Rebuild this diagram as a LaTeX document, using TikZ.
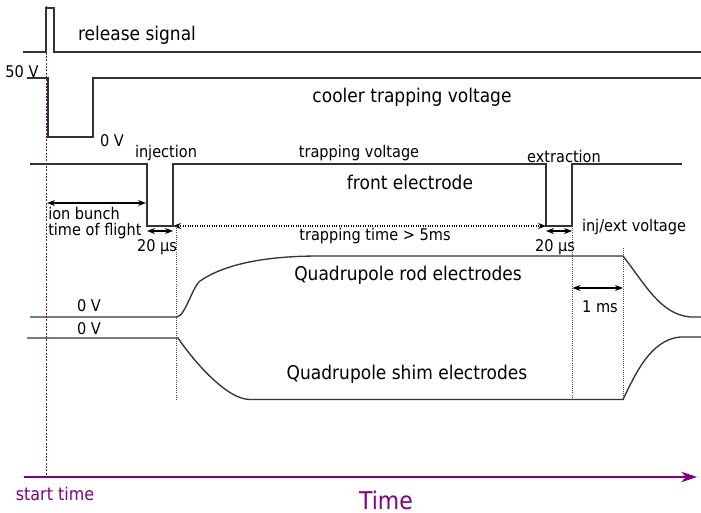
\documentclass[tikz,border=0pt]{standalone}
\usepackage{fontspec}
\setmainfont{DejaVu Sans}[FakeStretch=0.9]
\usetikzlibrary{arrows.meta}
\definecolor{timeaxis}{RGB}{128,0,128}

\begin{document}
\begin{tikzpicture}[x=0.75pt, y=-0.75pt, >={Stealth[length=6pt,width=4.5pt]},
  signal/.style={line width=1pt, black!80},
  marker/.style={densely dotted, line width=0.6pt, black!70},
  span/.style={<->, line width=0.8pt},
  biglabel/.style={font=\fontsize{14.2}{16}\selectfont, inner sep=0pt},
  smalllabel/.style={font=\fontsize{12.1}{14}\selectfont, inner sep=0pt}]
  \useasboundingbox (0,0) rectangle (701,513);

  % start time
  \coordinate (t0-top) at (46.5,6);
  \coordinate (t0) at (46.5,477);
  \draw[timeaxis, line width=1pt, dash pattern=on 1.5pt off 1pt] (t0-top) -- (t0);

  % release signal
  \draw[signal] (23,52) -- (46,52) -- (46,8) -- (54,8) -- (54,52) -- (701,52);
  \node[biglabel] (release) at (137,35) {release signal};

  % cooler trapping voltage
  \draw[signal] (27,78) -- (48,78) -- (48,137) -- (93,137) -- (93,78) -- (701,78);
  \node[smalllabel] (cool-hi) at (22,72) {50 V};
  \node[smalllabel] (cool-lo) at (112,141) {0 V};
  \node[biglabel] (cooler) at (412,97) {cooler trapping voltage};

  % front electrode
  \coordinate (inj-l) at (147,226);
  \coordinate (inj-r) at (173,226);
  \coordinate (ext-l) at (546,226);
  \coordinate (ext-r) at (572,226);
  \draw[signal] (30,164) -| (inj-l) -- (inj-r) |- (546,164) -- (ext-l) -- (ext-r) |- (682,164);
  \node[smalllabel] (inj) at (166,153) {injection};
  \node[smalllabel] (trapv) at (359,153) {trapping voltage};
  \node[smalllabel] (ext) at (564,156) {extraction};
  \node[biglabel] (front) at (410,182) {front electrode};
  \node[smalllabel] (injext) at (634,227) {inj/ext voltage};

  % time of flight
  \coordinate (tof-a) at (47,203);
  \coordinate (tof-b) at (146,203);
  \draw[span] (tof-a) -- (tof-b);
  \node[smalllabel, anchor=west] (bunch) at (48,213) {ion bunch};
  \node[smalllabel, anchor=west] (flight) at (48,231) {time of flight};

  % pulse widths
  \coordinate (inj-a) at (147,231);
  \coordinate (inj-b) at (173,231);
  \coordinate (ext-a) at (546,231);
  \coordinate (ext-b) at (572,231);
  \draw[span] (inj-a) -- (inj-b);
  \draw[span] (ext-a) -- (ext-b);
  \node[smalllabel] (inj-w) at (157,247) {20 µs};
  \node[smalllabel] (ext-w) at (555,247) {20 µs};

  % trapping time
  \draw[span, densely dotted] (inj-r) -- (ext-l);
  \node[smalllabel] (traptime) at (375,236) {trapping time > 5ms};

  % guide lines
  \coordinate (g1-a) at (176,226);   \coordinate (g1-b) at (176,400);
  \coordinate (g2-a) at (572.5,226); \coordinate (g2-b) at (572.5,400);
  \coordinate (g3-a) at (623,248);   \coordinate (g3-b) at (623,400);
  \draw[marker] (g1-a) -- (g1-b);
  \draw[marker] (g2-a) -- (g2-b);
  \draw[marker] (g3-a) -- (g3-b);

  % quadrupole rods
  \draw[signal] (30,317) -- (177,317)
    .. controls (185,316) and (192,288) .. (200,281)
    .. controls (225,264) and (265,256) .. (320,256) -- (623,256)
    .. controls (645,284) and (660,314) .. (690,317) -- (701,317);
  \node[smalllabel] (rod-v) at (89,306) {0 V};
  \node[biglabel] (rod) at (408,275) {Quadrupole rod electrodes};

  % quadrupole shims
  \draw[signal] (27,338) -- (178,338)
    .. controls (190,356) and (225,399.5) .. (250,399.5) -- (623,399.5)
    .. controls (635,375) and (650,340) .. (680,337) -- (701,337);
  \node[smalllabel] (shim-v) at (89,329) {0 V};
  \node[biglabel] (shim) at (407,374) {Quadrupole shim electrodes};

  % ramp time
  \coordinate (ramp-a) at (572.5,288);
  \coordinate (ramp-b) at (623,288);
  \draw[span] (ramp-a) -- (ramp-b);
  \node[smalllabel] (ramp) at (600,307) {1 ms};

  % time axis
  \coordinate (axis-a) at (24,477);
  \coordinate (axis-b) at (697,477);
  \draw[timeaxis, line width=1.1pt, -{Stealth[length=12pt,width=8pt]}] (axis-a) -- (axis-b);
  \node[font=\fontsize{13.3}{15}\selectfont, text=timeaxis, inner sep=0pt] (start) at (55,494) {start time};
  \node[font=\fontsize{18.3}{20}\selectfont, text=timeaxis, inner sep=0pt] (time) at (386,500) {Time};
\end{tikzpicture}
\end{document}
